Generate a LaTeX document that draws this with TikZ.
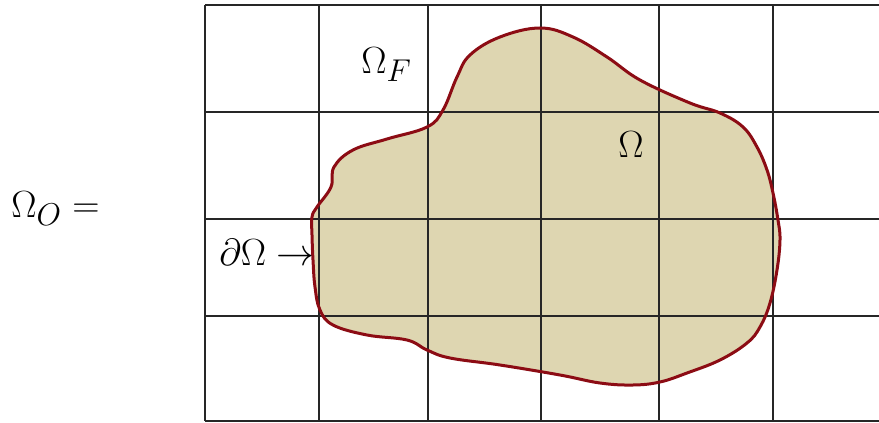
\documentclass[tikz,border=0pt]{standalone}
\usepackage{amsmath}
\begin{document}
\begin{tikzpicture}[x=1pt,y=-1pt,
  gridline/.style={line width=1.3pt,black!85},
  boundary/.style={line width=3pt,draw=bcol},
  lbl/.style={inner sep=0pt,anchor=base west,font=\Huge,scale=1.52}]
\definecolor{bcol}{RGB}{140,12,20}
\definecolor{fcol}{RGB}{222,214,177}
\useasboundingbox (0,0) rectangle (879,423);
\def\shape{plot[smooth cycle,tension=0.65] coordinates {(540,28) (573,37) (607,57) (640,80) (690,103) (720,113) (743,127) (757,147) (767,170) (773,193) (778,220) (780,240) (777,270) (770,303) (760,327) (747,343) (720,360) (687,373) (660,382) (633,385) (600,383) (560,375) (500,365) (450,358) (427,350) (407,340) (367,335) (333,325) (320,310) (315,287) (313,260) (312,235) (312,217) (317,207) (331,187) (334,167) (353,150) (387,139) (427,127) (443,110) (457,77) (470,55) (500,37)}}
\fill[fcol] \shape;
\foreach \x in {205,319,428,541,659,773} \draw[gridline] (\x,5) -- (\x,421);
\foreach \y in {5,112,219,316,421} \draw[gridline] (205,\y) -- (879,\y);
\draw[boundary] \shape;
\node[lbl] (oo) at (11,217) {$\Omega_O =$};
\node[lbl] (of) at (361,73) {$\Omega_F$};
\node[lbl] (om) at (618,157) {$\Omega$};
\node[lbl] (do) at (219,265) {$\partial\Omega \rightarrow$};
\end{tikzpicture}
\end{document}
